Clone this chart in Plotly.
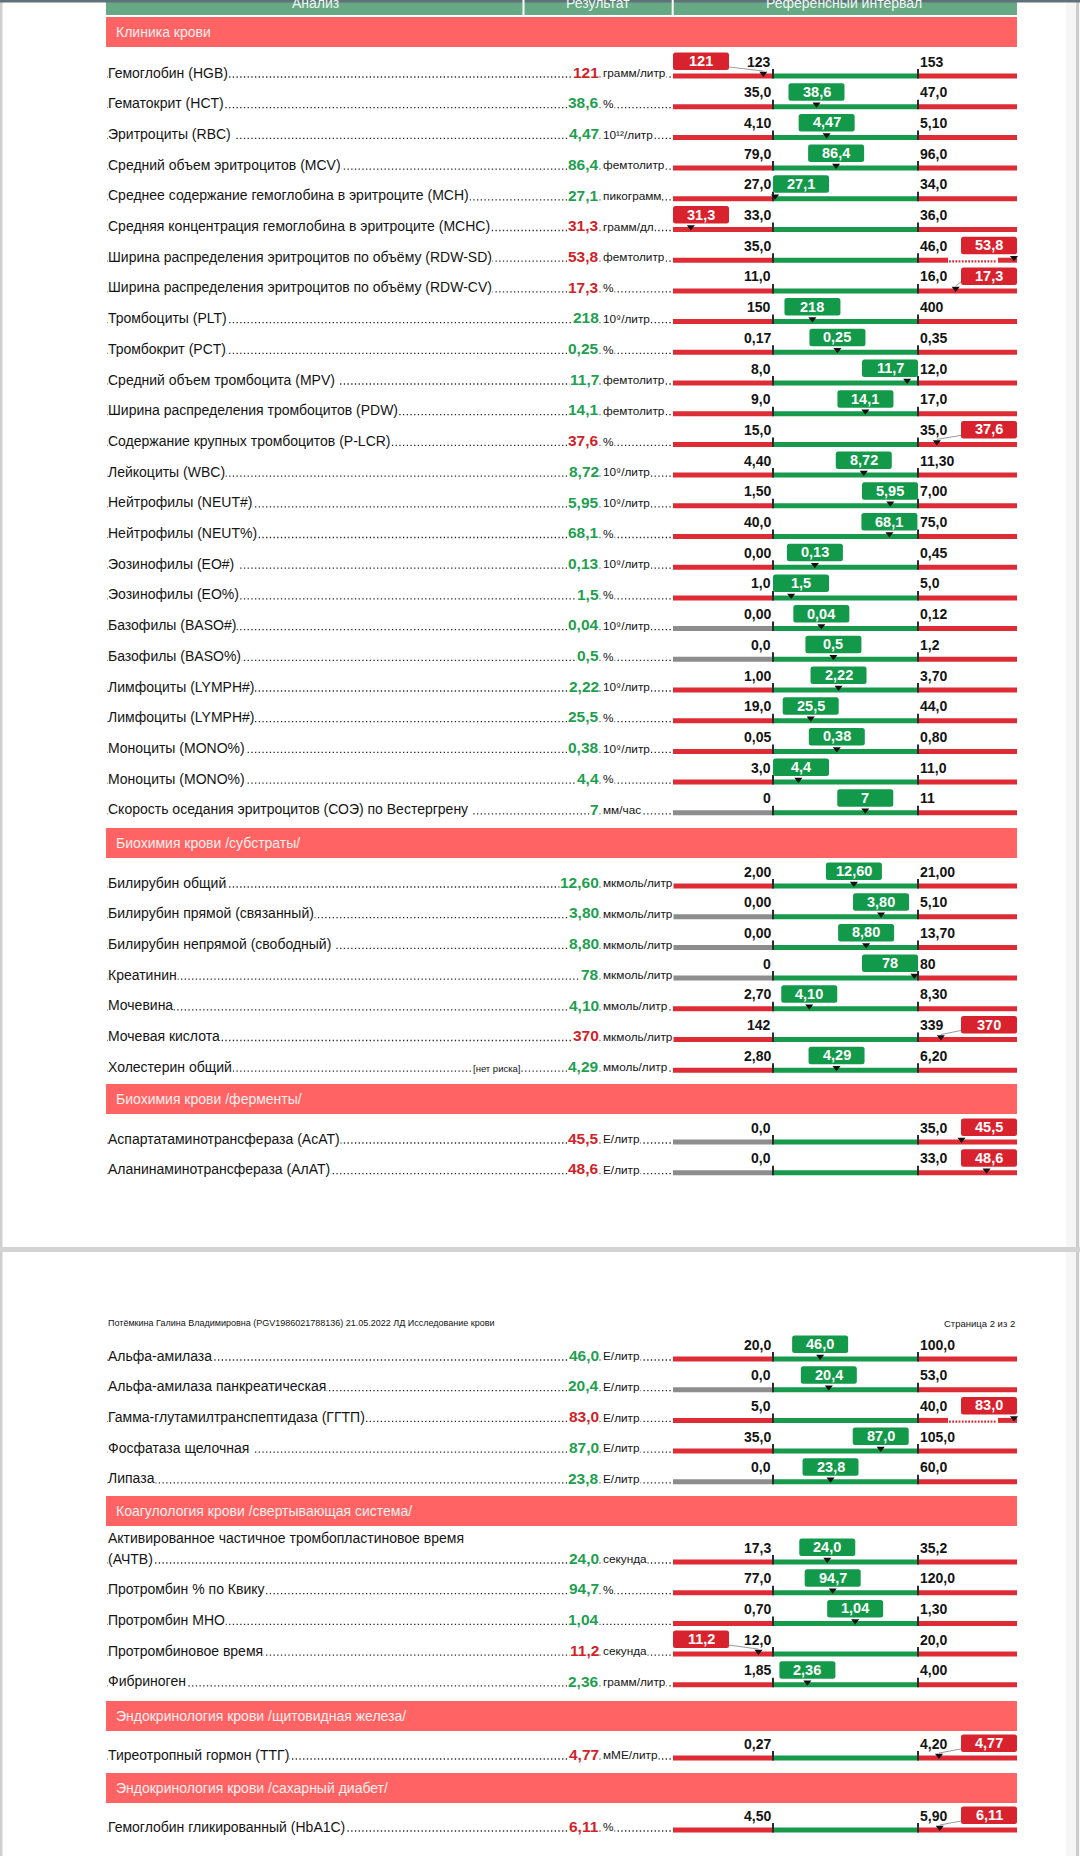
import plotly.graph_objects as go

# ---------------- data ----------------
SECTION_TITLES = [
    "Клиника крови",
    "Биохимия крови /субстраты/",
    "Биохимия крови /ферменты/",
    "",
    "Коагулология крови /свертывающая система/",
    "Эндокринология крови /щитовидная железа/",
    "Эндокринология крови /сахарный диабет/",
]
SECTION_SIZES = [25, 7, 2, 5, 5, 1, 1]

SUP9 = "10⁹/литр"
SUP12 = "10¹²/литр"

TEST_NAMES = [
    "Гемоглобин (HGB)",
    "Гематокрит (HCT)",
    "Эритроциты (RBC) ",
    "Средний объем эритроцитов (MCV)",
    "Среднее содержание гемоглобина в эритроците (MCH)",
    "Средняя концентрация гемоглобина в эритроците (MCHC)",
    "Ширина распределения эритроцитов по объёму (RDW-SD)",
    "Ширина распределения эритроцитов по объёму (RDW-CV)",
    "Тромбоциты (PLT)",
    "Тромбокрит (PCT)",
    "Средний объем тромбоцита (MPV) ",
    "Ширина распределения тромбоцитов (PDW)",
    "Содержание крупных тромбоцитов (P-LCR)",
    "Лейкоциты (WBC)",
    "Нейтрофилы (NEUT#)",
    "Нейтрофилы (NEUT%)",
    "Эозинофилы (EO#) ",
    "Эозинофилы (EO%)",
    "Базофилы (BASO#)",
    "Базофилы (BASO%)",
    "Лимфоциты (LYMPH#)",
    "Лимфоциты (LYMPH#)",
    "Моноциты (MONO%)",
    "Моноциты (MONO%)",
    "Скорость оседания эритроцитов (СОЭ) по Вестергрену ",
    "Билирубин общий",
    "Билирубин прямой (связанный)",
    "Билирубин непрямой (свободный) ",
    "Креатинин",
    "Мочевина",
    "Мочевая кислота",
    "Холестерин общий",
    "Аспартатаминотрансфераза (АсАТ)",
    "Аланинаминотрансфераза (АлАТ)",
    "Альфа-амилаза",
    "Альфа-амилаза панкреатическая",
    "Гамма-глутамилтранспептидаза (ГГТП)",
    "Фосфатаза щелочная ",
    "Липаза",
    "Активированное частичное тромбопластиновое время\n(АЧТВ)",
    "Протромбин % по Квику",
    "Протромбин МНО",
    "Протромбиновое время",
    "Фибриноген",
    "Тиреотропный гормон (ТТГ)",
    "Гемоглобин гликированный (HbA1C)",
]
RESULTS = [
    "121", "38,6", "4,47", "86,4", "27,1", "31,3", "53,8", "17,3", "218", "0,25",
    "11,7", "14,1", "37,6", "8,72", "5,95", "68,1", "0,13", "1,5", "0,04", "0,5",
    "2,22", "25,5", "0,38", "4,4", "7",
    "12,60", "3,80", "8,80", "78", "4,10", "370", "4,29",
    "45,5", "48,6",
    "46,0", "20,4", "83,0", "87,0", "23,8",
    "24,0", "94,7", "1,04", "11,2", "2,36",
    "4,77",
    "6,11",
]
UNITS = [
    "грамм/литр", "%", SUP12, "фемтолитр", "пикограмм", "грамм/дл", "фемтолитр", "%", SUP9, "%",
    "фемтолитр", "фемтолитр", "%", SUP9, SUP9, "%", SUP9, "%", SUP9, "%",
    SUP9, "%", SUP9, "%", "мм/час",
    "мкмоль/литр", "мкмоль/литр", "мкмоль/литр", "мкмоль/литр", "ммоль/литр", "мкмоль/литр", "ммоль/литр",
    "Е/литр", "Е/литр",
    "Е/литр", "Е/литр", "Е/литр", "Е/литр", "Е/литр",
    "секунда", "%", "", "секунда", "грамм/литр",
    "мМЕ/литр",
    "%",
]
REF_LOW = [
    "123", "35,0", "4,10", "79,0", "27,0", "33,0", "35,0", "11,0", "150", "0,17",
    "8,0", "9,0", "15,0", "4,40", "1,50", "40,0", "0,00", "1,0", "0,00", "0,0",
    "1,00", "19,0", "0,05", "3,0", "0",
    "2,00", "0,00", "0,00", "0", "2,70", "142", "2,80",
    "0,0", "0,0",
    "20,0", "0,0", "5,0", "35,0", "0,0",
    "17,3", "77,0", "0,70", "12,0", "1,85",
    "0,27",
    "4,50",
]
REF_HIGH = [
    "153", "47,0", "5,10", "96,0", "34,0", "36,0", "46,0", "16,0", "400", "0,35",
    "12,0", "17,0", "35,0", "11,30", "7,00", "75,0", "0,45", "5,0", "0,12", "1,2",
    "3,70", "44,0", "0,80", "11,0", "11",
    "21,00", "5,10", "13,70", "80", "8,30", "339", "6,20",
    "35,0", "33,0",
    "100,0", "53,0", "40,0", "105,0", "60,0",
    "35,2", "120,0", "1,30", "20,0", "4,00",
    "4,20",
    "5,90",
]
# lower zone drawn grey (no lower limit of clinical significance)
LOW_ZONE_GRAY = [
    0, 0, 0, 0, 0, 0, 0, 0, 0, 0, 0, 0, 0, 0, 0, 0, 0, 0, 1, 1, 0, 0, 0, 0, 1,
    0, 1, 1, 1, 0, 0, 0,
    1, 1,
    0, 1, 0, 0, 1,
    0, 0, 0, 0, 0,
    0,
    0,
]
NOTES = [""] * 31 + ["[нет риска]"] + [""] * 14

PAGE2_HEADER = "Потёмкина Галина Владимировна (PGV1986021788136) 21.05.2022 ЛД Исследование крови"
PAGE2_PAGENO = "Страница 2 из 2"
TABLE_COLUMNS = ["Анализ", "Результат", "Референсный интервал"]

# ---------------- layout constants ----------------
W, H = 1080, 1856
TABLE_L, TABLE_R = 106, 1017
BAR_L, BAR_R = 673, 1017
TICK_LO, TICK_HI = 773, 918
ROW_STEP = 30.7
HEADER_TOPS = [17, 828, 1084, None, 1496, 1701, 1773]
FIRST_ROW_Y = [76, 886, 1142, 1359, 1562, 1758, 1830]
HEADER_H = 30
PAGE_BREAK = (1247, 1252)

FONT = "Liberation Sans, Arial, sans-serif"
RED_BAR = "#dd2c36"
GREEN_BAR = "#179a4c"
GRAY_BAR = "#8d8d8d"
BOX_GREEN = "#12994a"
BOX_RED = "#d8222d"
VAL_GREEN = "#1f9f50"
VAL_RED = "#d21f29"
HEADER_RED = "#ff6363"
HEADER_GREEN = "#67a985"
TEXT = "#141414"


def num(s):
    return float(s.replace(",", "."))


fig = go.Figure()
shapes = []
ann = []
axes = {}


def rect(x0, x1, y0, y1, color, xref="x", layer="below"):
    shapes.append(dict(type="rect", xref=xref, yref="y", x0=x0, x1=x1, y0=y0, y1=y1,
                       fillcolor=color, line=dict(width=0), layer=layer))


def rounded(x0, x1, y0, y1, rx, ry, color, xref):
    p = (f"M{x0 + rx},{y0} L{x1 - rx},{y0} Q{x1},{y0} {x1},{y0 + ry} L{x1},{y1 - ry} "
         f"Q{x1},{y1} {x1 - rx},{y1} L{x0 + rx},{y1} Q{x0},{y1} {x0},{y1 - ry} "
         f"L{x0},{y0 + ry} Q{x0},{y0} {x0 + rx},{y0} Z")
    shapes.append(dict(type="path", xref=xref, yref="y", path=p, fillcolor=color,
                       line=dict(width=0), layer="below"))


def line(x0, x1, y0, y1, color, width, dash="solid", xref="x"):
    shapes.append(dict(type="line", xref=xref, yref="y", x0=x0, x1=x1, y0=y0, y1=y1,
                       line=dict(color=color, width=width, dash=dash), layer="below"))


def text(x, y, s, size, color=TEXT, anchor="left", xref="x", bg=None, yanchor="middle", xshift=0):
    d = dict(x=x, y=y, xref=xref, yref="y", text=s, showarrow=False, xanchor=anchor,
             yanchor=yanchor, font=dict(family=FONT, size=size, color=color),
             borderpad=0, xshift=xshift)
    if bg:
        d["bgcolor"] = bg
    ann.append(d)


# page frame
rect(0, W, PAGE_BREAK[0], PAGE_BREAK[1], "#d3d3d3")
for (ya, yb) in [(0, PAGE_BREAK[0]), (PAGE_BREAK[1], H)]:
    rect(0, 2.5, ya, yb, "#cfcfcf")
    rect(1066, 1080, ya, yb, "#f6f6f6")
    rect(1076, 1079, ya, yb, "#cdcdcd")

# top table header (partially scrolled out)
rect(TABLE_L, TABLE_R, 0, 15, HEADER_GREEN)
rect(0, W, 0, 2.5, "#5f7179")
for xs in (523.5, 672.7):
    rect(xs - 1, xs + 1, 0, 15, "#ffffff")
for xc, s in zip((315, 598, 844), TABLE_COLUMNS):
    text(xc, 3, s, 14, "#eef6f1", anchor="center")

# page 2 running header
text(107, 1323, PAGE2_HEADER, 9, TEXT)
text(1016, 1323, PAGE2_PAGENO, 9.5, TEXT, anchor="right")

row = 0
ax_id = 2
for si, title in enumerate(SECTION_TITLES):
    if HEADER_TOPS[si] is not None:
        top = HEADER_TOPS[si]
        rect(TABLE_L, TABLE_R, top, top + HEADER_H, HEADER_RED)
        text(115, top + HEADER_H / 2, title, 14, "#fff0f0")
    for j in range(SECTION_SIZES[si]):
        by = FIRST_ROW_Y[si] + j * ROW_STEP
        name = TEST_NAMES[row]
        v = num(RESULTS[row])
        lo = num(REF_LOW[row])
        hi = num(REF_HIGH[row])
        span = hi - lo
        ppx = span / (TICK_HI - TICK_LO)

        def d(p):
            return lo + (p - TICK_LO) * ppx

        xa = f"x{ax_id}"
        axes[f"xaxis{ax_id}"] = dict(overlaying="x", anchor="y", range=[d(0), d(W)],
                                     visible=False, fixedrange=True)

        # dot leaders and left texts
        line(107, BAR_L - 1.5, by + 1, by + 1, "#2a2a2a", 1.3, dash="1.3px,2.4px")
        lines = name.split("\n")
        for li, part in enumerate(lines):
            off = (len(lines) - 1 - li) * 21
            text(107, by - 3.5 - off, part, 14, TEXT, bg="white" if off == 0 else None)
        ok = lo <= v <= hi
        vcol = VAL_GREEN if ok else VAL_RED
        text(600, by - 3.8, f"<b>{RESULTS[row]}</b>", 15.5, vcol, anchor="right", bg="white")
        if UNITS[row]:
            text(602, by - 2.8, UNITS[row], 11.8, TEXT, bg="white")
        if NOTES[row]:
            text(496, by - 2, NOTES[row], 9.5, TEXT, anchor="center", bg="white")

        # reference bar
        rect(d(BAR_L), lo, by - 2.5, by + 2.5, GRAY_BAR if LOW_ZONE_GRAY[row] else RED_BAR, xref=xa)
        rect(lo, hi, by - 2.5, by + 2.5, GREEN_BAR, xref=xa)
        mx = min(max(v, d(BAR_L + 3)), d(BAR_R - 3))
        broken = v > d(BAR_R - 3)
        if broken:
            rect(hi, d(948), by - 2.5, by + 2.5, RED_BAR, xref=xa)
            rect(d(998), d(BAR_R), by - 2.5, by + 2.5, RED_BAR, xref=xa)
            line(d(949), d(997), by + 1.2, by + 1.2, RED_BAR, 2.2, dash="1.8px,1.4px", xref=xa)
        else:
            rect(hi, d(BAR_R), by - 2.5, by + 2.5, RED_BAR, xref=xa)
        for t in (lo, hi):
            line(t, t, by - 7, by + 2.5, "#2b2b2b", 2, xref=xa)
        text(lo, by - 14.5, f"<b>{REF_LOW[row]}</b>", 14, TEXT, anchor="right", xref=xa, xshift=-1)
        text(hi, by - 14.5, f"<b>{REF_HIGH[row]}</b>", 14, TEXT, anchor="left", xref=xa, xshift=1)

        # result box
        half = 28 * ppx
        if ok:
            c = min(max(v, lo + half), hi - half)
            bx0, bx1, bcol = c - half, c + half, BOX_GREEN
        elif v < lo:
            bx0, bx1, bcol = d(BAR_L), d(BAR_L + 56), BOX_RED
            if mx > d(BAR_L + 60):
                line(bx1, mx, by - 9, by - 5, "#9a9a9a", 1, xref=xa)
        else:
            bx0, bx1, bcol = d(BAR_R - 56), d(BAR_R), BOX_RED
            if mx < d(BAR_R - 60):
                line(mx, bx0, by - 5, by - 9, "#9a9a9a", 1, xref=xa)
        rounded(bx0, bx1, by - 23.5, by - 6, 2.5 * ppx, 2.5, bcol, xa)
        text((bx0 + bx1) / 2, by - 15, f"<b>{RESULTS[row]}</b>", 14.5, "#ffffff",
             anchor="center", xref=xa)

        fig.add_trace(go.Scatter(x=[mx], y=[by - 2.5], xaxis=xa, yaxis="y", mode="markers",
                                 marker=dict(symbol="triangle-down", size=7, color="#111111",
                                             line=dict(width=0)),
                                 hoverinfo="skip", showlegend=False))
        row += 1
        ax_id += 1

fig.update_layout(
    width=W, height=H, margin=dict(l=0, r=0, t=0, b=0),
    paper_bgcolor="white", plot_bgcolor="white", showlegend=False,
    xaxis=dict(range=[0, W], visible=False, fixedrange=True, domain=[0, 1]),
    yaxis=dict(range=[H, 0], visible=False, fixedrange=True, domain=[0, 1]),
    shapes=shapes, annotations=ann, **axes,
)
fig.write_html("out.html", config={"displayModeBar": False},
               post_script="document.body.style.margin='0';")
